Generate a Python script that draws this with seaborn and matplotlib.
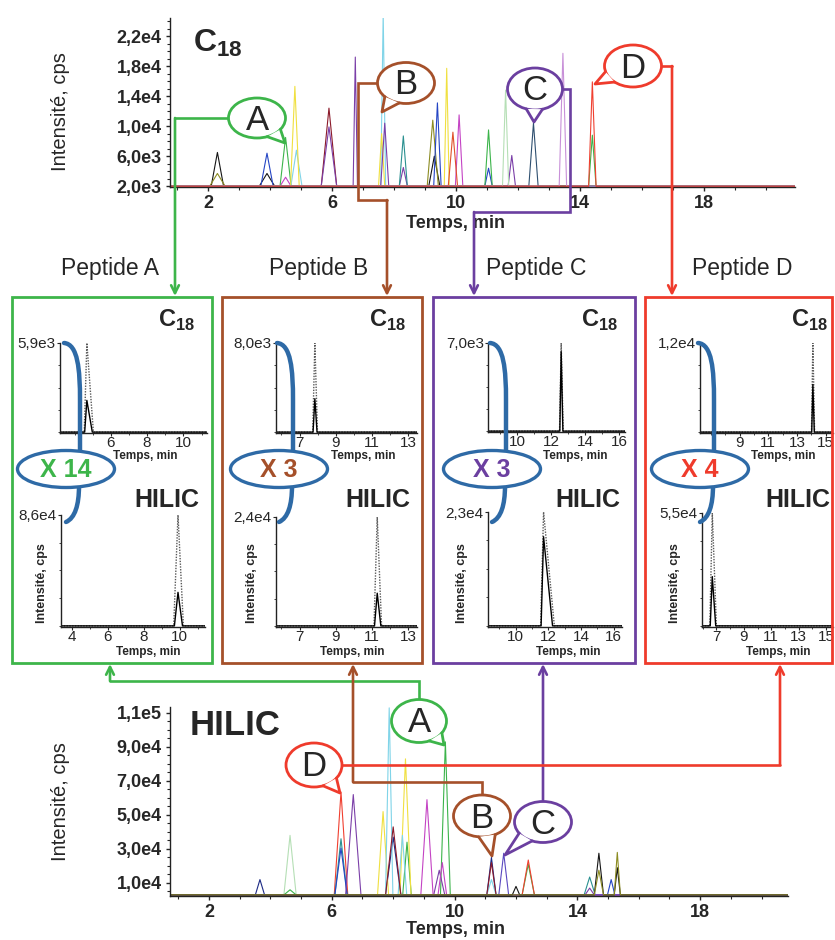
import numpy as np
import pandas as pd
import matplotlib
matplotlib.use("Agg")
import matplotlib.pyplot as plt
import seaborn as sns
from matplotlib.patches import Ellipse, Polygon, Rectangle, PathPatch
from matplotlib.path import Path
from matplotlib.ticker import MultipleLocator

# ---- overview C18 chromatogram, one entry per peak ----
c18_trace = ["black", "olive", "blue", "black", "magenta", "green", "cyan", "yellow",
             "darkred", "purple", "purple", "cyan", "purple", "yellow", "teal", "purple",
             "olive", "black", "blue", "yellow", "orange", "magenta", "green", "blue",
             "lightgreen", "purple", "steel", "pink", "red", "green"]
c18_rt = [2.3, 2.3, 3.9, 3.9, 4.5, 4.5, 4.85, 4.8, 5.9, 5.9, 6.75, 7.65, 7.7, 7.6, 8.3, 8.3,
          9.25, 9.3, 9.4, 9.7, 9.9, 10.1, 11.05, 11.05, 11.6, 11.8, 12.5, 13.45, 14.4, 14.4]
c18_cps = [6500, 3700, 6400, 3700, 3200, 8500, 6800, 15300, 12400, 9900, 19200, 25000,
           10400, 9000, 8700, 4500, 10800, 6000, 13100, 17700, 9200, 11500, 9500, 4400,
           14800, 6100, 10400, 19700, 15900, 8800]
c18_hw = [0.2, 0.25, 0.2, 0.25, 0.18, 0.18, 0.18, 0.14, 0.25, 0.25, 0.07, 0.08, 0.13, 0.1,
          0.13, 0.13, 0.18, 0.18, 0.12, 0.08, 0.15, 0.12, 0.12, 0.12, 0.1, 0.12, 0.15, 0.12,
          0.12, 0.12]
c18_yticks = [2000, 6000, 10000, 14000, 18000, 22000]
c18_ylabels = ["2,0e3", "6,0e3", "1,0e4", "1,4e4", "1,8e4", "2,2e4"]

# ---- overview HILIC chromatogram ----
hilic_trace = ["navy", "lightgreen", "green", "red", "teal", "blue", "purple", "yellow",
               "cyan", "darkred", "navy", "yellow", "cyan", "green", "magenta", "purple",
               "magenta", "green", "navy", "darkred", "cyan", "violet", "black", "red",
               "green", "teal", "black", "olive", "blue", "olive", "black", "purple"]
hilic_rt = [3.66, 4.64, 4.64, 6.3, 6.3, 6.3, 6.7, 7.67, 7.87, 8.0, 8.0, 8.4, 8.3, 8.45,
            9.1, 9.5, 9.6, 9.7, 11.2, 11.2, 11.2, 11.6, 12.0, 12.4, 12.4, 14.4, 14.7,
            14.7, 15.1, 15.3, 15.3, 14.4]
hilic_cps = [12000, 38000, 6000, 63500, 36000, 30500, 62000, 52000, 113000, 43000, 37000,
             83000, 38000, 34000, 59000, 17500, 22000, 93000, 25000, 22000, 12000, 27500,
             8000, 23500, 21000, 13500, 27500, 17500, 12000, 28000, 19000, 7000]
hilic_hw = [0.15, 0.2, 0.2, 0.22, 0.2, 0.2, 0.25, 0.18, 0.12, 0.25, 0.25, 0.18, 0.14, 0.14,
            0.2, 0.18, 0.14, 0.16, 0.15, 0.15, 0.15, 0.16, 0.12, 0.2, 0.2, 0.18, 0.15,
            0.15, 0.12, 0.1, 0.1, 0.15]
hilic_yticks = [10000, 30000, 50000, 70000, 90000, 110000]
hilic_ylabels = ["1,0e4", "3,0e4", "5,0e4", "7,0e4", "9,0e4", "1,1e5"]
overview_xticks = [2, 6, 10, 14, 18]

palette = {"black": "#151515", "olive": "#8c8c22", "blue": "#2445c4", "navy": "#1c2a85",
           "magenta": "#c443c4", "green": "#3cb44b", "cyan": "#80d4e8", "yellow": "#f0e040",
           "darkred": "#8b1a2a", "purple": "#7b3fa8", "teal": "#2a9090", "orange": "#e0502a",
           "lightgreen": "#b5dfb5", "steel": "#2f5070", "pink": "#c890d8", "red": "#f04030",
           "violet": "#5a48c0"}

# ---- peptide extracted chromatograms (A, B, C, D) ----
peptides = ["Peptide A", "Peptide B", "Peptide C", "Peptide D"]
fold = ["X 14", "X 3", "X 3", "X 4"]
c18_max = [5.9e3, 8.0e3, 7.0e3, 1.2e4]
c18_max_label = ["5,9e3", "8,0e3", "7,0e3", "1,2e4"]
hilic_max = [8.6e4, 2.4e4, 2.3e4, 5.5e4]
hilic_max_label = ["8,6e4", "2,4e4", "2,3e4", "5,5e4"]
pep_c18_rt = [4.68, 7.85, 12.6, 14.1]
pep_hilic_rt = [9.9, 11.3, 11.7, 6.7]
pep_c18_solid = [2.1e3, 3.0e3, 6.3e3, 6.4e3]
pep_hilic_solid = [2.6e4, 7.2e3, 1.8e4, 2.4e4]
pep_c18_hw = [(0.12, 0.3), (0.1, 0.12), (0.08, 0.1), (0.08, 0.1)]
pep_hilic_hw = [(0.2, 0.25), (0.15, 0.2), (0.15, 0.55), (0.15, 0.25)]
pep_c18_ticks = [[6, 8, 10], [7, 9, 11, 13], [10, 12, 14, 16], [9, 11, 13, 15]]
pep_hilic_ticks = [[4, 6, 8, 10], [7, 9, 11, 13], [10, 12, 14, 16], [7, 9, 11, 13, 15]]
pep_c18_xlim = [(3.2, 11.3), (5.7, 13.5), (8.3, 16.35), (6.25, 15.5)]
pep_hilic_xlim = [(3.4, 11.4), (5.7, 13.5), (8.3, 16.5), (5.95, 15.5)]

colors = ["#3db54a", "#a5502a", "#6b3fa0", "#ef3b2c"]
blue_mark = "#2e6aa6"

W, H = 835, 940
sns.set_style("ticks")
plt.rcParams["font.family"] = ["Liberation Sans", "DejaVu Sans"]
plt.rcParams["mathtext.fontset"] = "custom"
plt.rcParams["mathtext.bf"] = "Liberation Sans:bold"
plt.rcParams["mathtext.rm"] = "Liberation Sans"

fig = plt.figure(figsize=(W / 100, H / 100), dpi=100)


def px_axes(l, t, r, b):
    return fig.add_axes([l / W, 1 - b / H, (r - l) / W, (b - t) / H])


def trace_frame(names, rts, vals, hws, base, x0, x1):
    rows = []
    for name in dict.fromkeys(names):
        idx = sorted([i for i, n in enumerate(names) if n == name], key=lambda i: rts[i])
        pts = [(x0, base)]
        for i in idx:
            pts += [(rts[i] - hws[i], base), (rts[i], vals[i]), (rts[i] + hws[i], base)]
        pts.append((x1, base))
        rows += [(name, x, y) for x, y in pts]
    return pd.DataFrame(rows, columns=["trace", "t", "cps"])


def overview(ax, names, rts, vals, hws, base, xlim, ylim, yticks, ylabels, yminor):
    df = trace_frame(names, rts, vals, hws, base, xlim[0], xlim[1])
    sns.lineplot(data=df, x="t", y="cps", hue="trace", palette=palette, estimator=None,
                 sort=False, legend=False, linewidth=0.8, ax=ax)
    ax.set_xlim(*xlim)
    ax.set_ylim(*ylim)
    ax.set_xlabel("")
    ax.set_ylabel("")
    ax.set_xticks(overview_xticks, [str(v) for v in overview_xticks])
    ax.set_yticks(yticks, ylabels)
    ax.xaxis.set_minor_locator(MultipleLocator(1))
    ax.yaxis.set_minor_locator(MultipleLocator(yminor))
    for s in ["top", "right"]:
        ax.spines[s].set_visible(False)
    for s in ["left", "bottom"]:
        ax.spines[s].set_color("#222222")
        ax.spines[s].set_linewidth(1)
    ax.tick_params(which="major", labelsize=13, length=3, width=1, pad=3)
    ax.tick_params(which="minor", length=2, width=0.8)
    for lab in ax.get_xticklabels() + ax.get_yticklabels():
        lab.set_fontweight("bold")
    ax.patch.set_alpha(0)


ax_top = px_axes(170, 18, 795, 187)
overview(ax_top, c18_trace, c18_rt, c18_cps, c18_hw, 2000, (0.77, 20.94), (1900, 24400),
         c18_yticks, c18_ylabels, 1000)
ax_bot = px_axes(170, 707, 788, 896)
overview(ax_bot, hilic_trace, hilic_rt, hilic_cps, hilic_hw, 3000, (0.73, 20.86), (2350, 113500),
         hilic_yticks, hilic_ylabels, 5000)


def peptide_panel(rect, rt, top, solid, hw, xlim, ticks, top_label):
    ax = px_axes(*rect)
    dotted = pd.DataFrame({"t": [xlim[0], rt - hw[0] * 1.2, rt, rt + hw[1] * 1.2, xlim[1]],
                           "cps": [0, 0, top, 0, 0]})
    full = pd.DataFrame({"t": [xlim[0], rt - hw[0], rt, rt + hw[1], xlim[1]],
                         "cps": [0, 0, solid, 0, 0]})
    sns.lineplot(data=dotted, x="t", y="cps", color="0.35", linestyle=(0, (1, 1)),
                 linewidth=1.0, estimator=None, sort=False, ax=ax)
    sns.lineplot(data=full, x="t", y="cps", color="black", linewidth=1.0,
                 estimator=None, sort=False, ax=ax)
    ax.set_xlim(*xlim)
    ax.set_ylim(-top * 0.01, top)
    ax.set_xlabel("")
    ax.set_ylabel("")
    ax.set_xticks(ticks, [str(v) for v in ticks])
    ax.set_yticks([top], [top_label])
    ax.xaxis.set_minor_locator(MultipleLocator(1))
    ax.yaxis.set_minor_locator(MultipleLocator(top / 4))
    for s in ["top", "right"]:
        ax.spines[s].set_visible(False)
    for s in ["left", "bottom"]:
        ax.spines[s].set_linewidth(1)
        ax.spines[s].set_color("#222222")
    ax.tick_params(axis="x", which="major", labelsize=11, length=2, pad=0)
    ax.tick_params(axis="y", which="major", labelsize=11, length=2, pad=1)
    ax.tick_params(which="minor", length=1.5)
    ax.patch.set_alpha(0)
    return ax


up_rects = [(60, 343, 207, 433), (276, 343, 417, 433), (488, 343, 625, 432), (700, 343, 833, 433)]
lo_rects = [(61, 515, 205, 627), (276, 517, 417, 627), (488, 512, 622, 627), (702, 513, 833, 627)]
for i in range(4):
    peptide_panel(up_rects[i], pep_c18_rt[i], c18_max[i], pep_c18_solid[i], pep_c18_hw[i],
                  pep_c18_xlim[i], pep_c18_ticks[i], c18_max_label[i])
    peptide_panel(lo_rects[i], pep_hilic_rt[i], hilic_max[i], pep_hilic_solid[i], pep_hilic_hw[i],
                  pep_hilic_xlim[i], pep_hilic_ticks[i], hilic_max_label[i])

# ---- overlay in pixel coordinates for boxes, callouts and labels ----
ov = fig.add_axes([0, 0, 1, 1], zorder=10)
ov.set_xlim(0, W)
ov.set_ylim(H, 0)
ov.axis("off")
ov.patch.set_alpha(0)

# overview labels
ov.text(193, 52, r"$\mathbf{C}_{\mathbf{18}}$", fontsize=23, ha="left", va="baseline")
ov.text(190, 735, "HILIC", fontsize=25, fontweight="bold", ha="left", va="baseline")
ov.text(455, 223, "Temps, min", fontsize=13, fontweight="bold", ha="center", va="center")
ov.text(455, 930, "Temps, min", fontsize=13, fontweight="bold", ha="center", va="center")
ov.text(61, 112, "Intensité, cps", fontsize=14.5, rotation=90, ha="center", va="center")
ov.text(61, 802, "Intensité, cps", fontsize=14.5, rotation=90, ha="center", va="center")

box_x = [(12, 212), (222, 422), (433, 635), (645, 832)]
pep_label_x = [110, 319, 536, 742]
c18_lab_x = [177, 388, 600, 810]
hilic_lab_x = [167, 378, 588, 798]
ylab_x = [42, 252, 462, 675]
tlab_up = [145, 363, 575, 783]
tlab_lo = [148, 352, 568, 778]
ell_cx = [66, 279, 492, 700]

for i in range(4):
    x0, x1 = box_x[i]
    ov.add_patch(Rectangle((x0, 297), x1 - x0, 366, fill=False, ec=colors[i], lw=2, zorder=4))
    ov.text(pep_label_x[i], 268, peptides[i], fontsize=16.5, ha="center", va="center")
    ov.text(c18_lab_x[i], 320, r"$\mathbf{C}_{\mathbf{18}}$", fontsize=17, ha="center", va="center")
    ov.text(hilic_lab_x[i], 500, "HILIC", fontsize=18, fontweight="bold", ha="center", va="center")
    ov.text(ylab_x[i], 583, "Intensité, cps", fontsize=9, fontweight="bold", rotation=90,
            ha="center", va="center")
    ov.text(tlab_up[i], 456, "Temps, min", fontsize=8.5, fontweight="bold", ha="center", va="center")
    ov.text(tlab_lo[i], 652, "Temps, min", fontsize=8.5, fontweight="bold", ha="center", va="center")

    cx = ell_cx[i]
    up = Path([(cx - 2, 343), (cx + 12, 344), (cx + 14, 370), (cx + 14, 400), (cx + 14, 452)],
              [Path.MOVETO, Path.CURVE4, Path.CURVE4, Path.CURVE4, Path.LINETO])
    lo = Path([(cx + 13, 486), (cx + 13, 505), (cx + 9, 518), (cx, 522)],
              [Path.MOVETO, Path.CURVE4, Path.CURVE4, Path.CURVE4])
    for p in (up, lo):
        ov.add_patch(PathPatch(p, fill=False, ec=blue_mark, lw=3.2, capstyle="round", zorder=5))
    ov.add_patch(Ellipse((cx, 469), 97, 37, fc="white", ec=blue_mark, lw=2.4, zorder=6))
    ov.text(cx, 470, fold[i], fontsize=18, fontweight="bold", color=colors[i],
            ha="center", va="center", zorder=7)


def connector(pts, color):
    xs, ys = zip(*pts)
    ov.plot(xs[:-1], ys[:-1], color=color, lw=1.9, zorder=3, solid_joinstyle="miter")
    ov.annotate("", xy=pts[-1], xytext=pts[-2],
                arrowprops=dict(arrowstyle="->", color=color, lw=1.9, shrinkA=0, shrinkB=0,
                                mutation_scale=14), zorder=3)


def bubble(cx, cy, w, h, tip, color, letter):
    a, b = w / 2, h / 2
    ang = np.arctan2((tip[1] - cy) / b, (tip[0] - cx) / a)
    p1 = (cx + a * np.cos(ang - 0.3), cy + b * np.sin(ang - 0.3))
    p2 = (cx + a * np.cos(ang + 0.3), cy + b * np.sin(ang + 0.3))
    ov.add_patch(Ellipse((cx, cy), w, h, fc="white", ec=color, lw=2, zorder=5))
    ov.add_patch(Polygon([p1, tip, p2], closed=True, fc="white", ec="none", zorder=6))
    ov.plot([p1[0], tip[0], p2[0]], [p1[1], tip[1], p2[1]], color=color, lw=2, zorder=7)
    ov.text(cx, cy + 2, letter, fontsize=25, ha="center", va="center", zorder=8)


# C18 callouts
connector([(257, 118), (175, 118), (175, 296)], colors[0])
connector([(406, 83), (358, 83), (358, 200), (387, 200), (387, 296)], colors[1])
connector([(535, 89), (570, 89), (570, 212), (474, 212), (474, 296)], colors[2])
connector([(633, 66), (672, 66), (672, 296)], colors[3])
bubble(257, 118, 57, 40, (285, 143), colors[0], "A")
bubble(406, 83, 57, 41, (382, 112), colors[1], "B")
bubble(535, 89, 55, 42, (534, 122), colors[2], "C")
bubble(633, 66, 57, 42, (595, 84), colors[3], "D")

# HILIC callouts
connector([(419, 721), (419, 681), (110, 681), (110, 664)], colors[0])
connector([(482, 816), (482, 782), (353, 782), (353, 664)], colors[1])
connector([(543, 822), (543, 664)], colors[2])
connector([(314, 765), (780, 765), (780, 664)], colors[3])
bubble(419, 721, 55, 43, (444, 745), colors[0], "A")
bubble(314, 765, 56, 44, (340, 793), colors[3], "D")
bubble(482, 816, 57, 42, (492, 856), colors[1], "B")
bubble(543, 822, 57, 41, (505, 855), colors[2], "C")

fig.savefig("out.png", dpi=100, facecolor="white")
